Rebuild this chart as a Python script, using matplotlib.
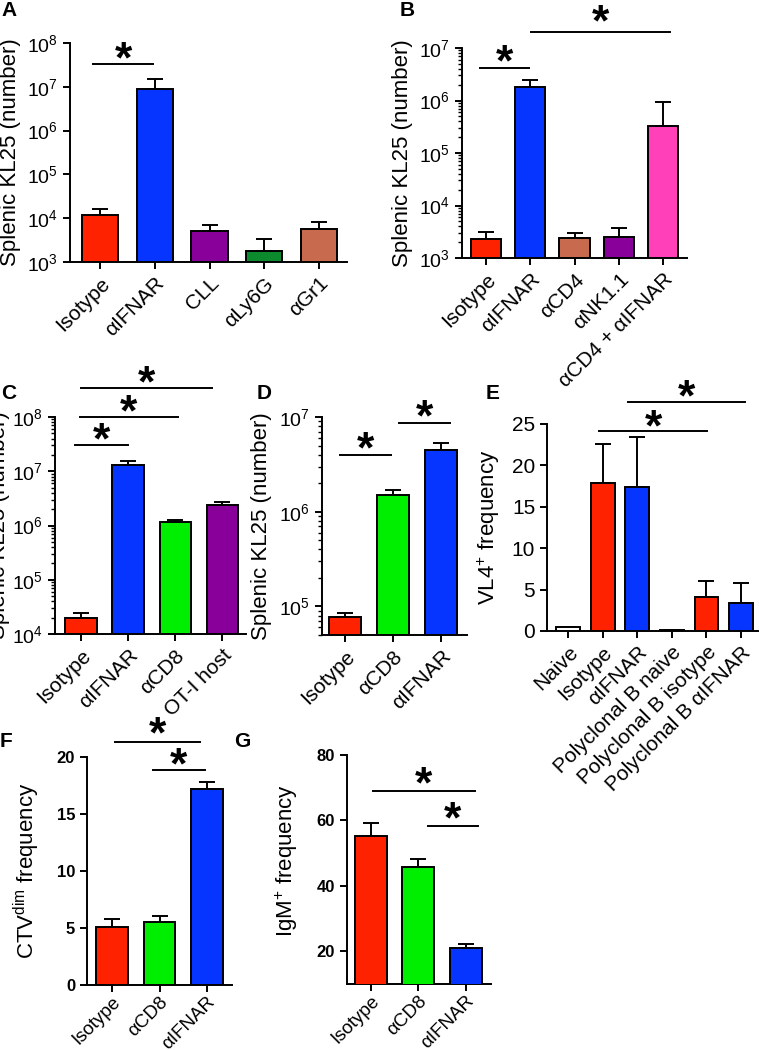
import matplotlib
matplotlib.use("Agg")
import matplotlib.pyplot as plt
import numpy as np
from matplotlib.transforms import blended_transform_factory
from matplotlib.ticker import LogLocator, NullFormatter

plt.rcParams['font.family'] = ['Liberation Sans', 'DejaVu Sans']
plt.rcParams['mathtext.fontset'] = 'custom'
plt.rcParams['mathtext.rm'] = 'Liberation Sans'
plt.rcParams['mathtext.it'] = 'Liberation Sans:italic'
plt.rcParams['mathtext.bf'] = 'Liberation Sans:bold'

RED = '#FF2200'
BLUE = '#0535FF'
PURPLE = '#880099'
DGREEN = '#0E8A2E'
BROWN = '#C86A4E'
PINK = '#FF40B8'
LIME = '#00EE00'
WHITE = '#FFFFFF'

# ---- Data ----
a_labels = ['Isotype', 'αIFNAR', 'CLL', 'αLy6G', 'αGr1']
a_values = [1.18e4, 8.9e6, 5.1e3, 1.78e3, 5.7e3]
a_err = [4.2e3, 6.1e6, 1.8e3, 1.5e3, 2.5e3]
a_colors = [RED, BLUE, PURPLE, DGREEN, BROWN]

b_labels = ['Isotype', 'αIFNAR', 'αCD4', 'αNK1.1', 'αCD4 + αIFNAR']
b_values = [2.3e3, 1.83e6, 2.4e3, 2.5e3, 3.2e5]
b_err = [0.8e3, 0.62e6, 0.6e3, 1.2e3, 6.3e5]
b_colors = [RED, BLUE, BROWN, PURPLE, PINK]

c_labels = ['Isotype', 'αIFNAR', 'αCD8', 'OT-I host']
c_values = [1.97e4, 1.3e7, 1.17e6, 2.35e6]
c_err = [0.47e4, 0.25e7, 0.08e6, 0.35e6]
c_colors = [RED, BLUE, LIME, PURPLE]

d_labels = ['Isotype', 'αCD8', 'αIFNAR']
d_values = [7.8e4, 1.5e6, 4.45e6]
d_err = [0.8e4, 0.2e6, 0.9e6]
d_colors = [RED, LIME, BLUE]

e_labels = ['Naive', 'Isotype', 'αIFNAR', 'Polyclonal B naive',
            'Polyclonal B isotype', 'Polyclonal B αIFNAR']
e_values = [0.5, 17.9, 17.4, 0.15, 4.1, 3.4]
e_err = [0.0, 4.7, 6.0, 0.0, 1.9, 2.4]
e_colors = [WHITE, RED, BLUE, WHITE, RED, BLUE]

f_labels = ['Isotype', 'αCD8', 'αIFNAR']
f_values = [5.1, 5.5, 17.2]
f_err = [0.65, 0.55, 0.6]
f_colors = [RED, LIME, BLUE]

g_labels = ['Isotype', 'αCD8', 'αIFNAR']
g_values = [55.3, 45.9, 20.9]
g_err = [4.0, 2.4, 1.2]
g_colors = [RED, LIME, BLUE]

W, H = 759, 1050
fig = plt.figure(figsize=(W / 100, H / 100), dpi=100)

LW = 1.4


def add_ax(x0, y0, x1, y1):
    return fig.add_axes([x0 / W, 1 - y1 / H, (x1 - x0) / W, (y1 - y0) / H])


def panel(ax, labels, values, err, colors, xlim, width, ylim, log,
          ylabel, label_x_px, x0px, x1px, label_y=0.5, bold_y=False,
          ytick_size=14, xpad=3.5, xsize=15):
    x = np.arange(len(values))
    bottom = ylim[0] if log else 0
    ax.bar(x, np.array(values) - bottom, bottom=bottom, width=width,
           color=colors, edgecolor='black', linewidth=LW, zorder=3)
    ax.errorbar(x, values, yerr=[np.zeros(len(err)), err], fmt='none',
                ecolor='black', elinewidth=LW, capsize=6, capthick=LW, zorder=2)
    if log:
        ax.set_yscale('log')
        ax.yaxis.set_minor_locator(LogLocator(base=10, subs=np.arange(2, 10)))
        ax.yaxis.set_minor_formatter(NullFormatter())
    ax.set_ylim(*ylim)
    ax.set_xlim(*xlim)
    ax.set_xticks(x)
    ax.set_xticklabels(labels, rotation=45, ha='right', va='top',
                       rotation_mode='anchor', fontsize=xsize)
    for s in ['top', 'right']:
        ax.spines[s].set_visible(False)
    for s in ['left', 'bottom']:
        ax.spines[s].set_linewidth(LW)
    ax.tick_params(axis='both', which='major', length=5, width=LW,
                   direction='out')
    ax.tick_params(axis='x', which='major', pad=xpad)
    ax.tick_params(axis='y', which='major', labelsize=ytick_size)
    ax.tick_params(axis='y', which='minor', length=3, width=1.0)
    if bold_y:
        for t in ax.get_yticklabels():
            t.set_fontweight('bold')
            t.set_fontsize(12)
    ax.set_ylabel(ylabel, fontsize=16)
    ax.yaxis.set_label_coords((label_x_px - x0px) / (x1px - x0px), label_y)


def sig(ax, xa, xb, ypix, starpix):
    tr = blended_transform_factory(ax.transData, fig.transFigure)
    ax.plot([xa, xb], [1 - ypix / H] * 2, color='black', lw=LW,
            transform=tr, clip_on=False)
    ax.text((xa + xb) / 2, 1 - (starpix + 20) / H, '*', transform=tr,
            ha='center', va='baseline', fontsize=32, fontweight='bold')


# Panel A
axA = add_ax(70, 43, 347, 262)
panel(axA, a_labels, a_values, a_err, a_colors, (-0.548, 4.51), 0.66,
      (1e3, 1e8), True, 'Splenic KL25 (number)', 21, 70, 347)
axA.set_yticks([1e3, 1e4, 1e5, 1e6, 1e7, 1e8])
sig(axA, -0.13, 0.97, 64, 52)

# Panel B
axB = add_ax(462, 48, 687, 258)
panel(axB, b_labels, b_values, b_err, b_colors, (-0.54, 4.54), 0.68,
      (1e3, 1e7), True, 'Splenic KL25 (number)', 413, 462, 687)
axB.set_yticks([1e3, 1e4, 1e5, 1e6, 1e7])
sig(axB, -0.14, 0.97, 68, 55)
sig(axB, 1.02, 4.15, 32, 15)

# Panel C
axC = add_ax(55, 417, 246, 634)
panel(axC, c_labels, c_values, c_err, c_colors, (-0.553, 3.51), 0.66,
      (1e4, 1e8), True, 'Splenic KL25 (number)', 10, 55, 246)
axC.set_yticks([1e4, 1e5, 1e6, 1e7, 1e8])
sig(axC, -0.13, 1.0, 445, 433)
sig(axC, -0.02, 2.06, 417, 405)
sig(axC, 0.0, 2.79, 388, 376)

# Panel D
axD = add_ax(322, 417, 467, 635)
panel(axD, d_labels, d_values, d_err, d_colors, (-0.48, 2.54), 0.67,
      (5e4, 1e7), True, 'Splenic KL25 (number)', 272, 322, 467)
axD.set_yticks([1e5, 1e6, 1e7])
sig(axD, -0.1, 0.96, 455, 442)
sig(axD, 1.13, 2.19, 423, 410)

# Panel E
axE = add_ax(547, 424, 758, 631)
panel(axE, e_labels, e_values, e_err, e_colors, (-0.61, 5.49), 0.69,
      (0, 25), False, r'VL4$^{+}$ frequency', 502, 547, 758, ytick_size=15)
axE.set_yticks([0, 5, 10, 15, 20, 25])
sig(axE, 0.9, 4.03, 431, 420)
sig(axE, 1.73, 5.12, 402, 390)

# Panel F
axF = add_ax(87, 757, 232, 985)
axF.set_yticks([0, 5, 10, 15, 20])
panel(axF, f_labels, f_values, f_err, f_colors, (-0.53, 2.53), 0.67,
      (0, 20), False, r'CTV$^{\mathregular{dim}}$ frequency', 42, 87, 232,
      bold_y=True, xpad=1, xsize=13.5)
sig(axF, 0.06, 1.85, 742, 727)
sig(axF, 0.87, 1.95, 770, 758)

# Panel G
axG = add_ax(347, 755, 491, 984)
axG.set_yticks([20, 40, 60, 80])
panel(axG, g_labels, g_values, g_err, g_colors, (-0.5, 2.53), 0.67,
      (10, 80), False, r'IgM$^{+}$ frequency', 300, 347, 491,
      label_y=0.54, bold_y=True, xpad=1, xsize=13.5)
sig(axG, 0.04, 2.19, 791, 777)
sig(axG, 1.2, 2.25, 826, 812)

# Panel letters
for letter, px, py in [('A', 1, 1), ('B', 400, 1), ('C', 1, 384), ('D', 257, 384),
                       ('E', 486, 384), ('F', 0, 732), ('G', 234, 732)]:
    fig.text(px / W, 1 - py / H, letter, fontsize=15, fontweight='bold',
             ha='left', va='top')

fig.savefig('out.png', dpi=100)
